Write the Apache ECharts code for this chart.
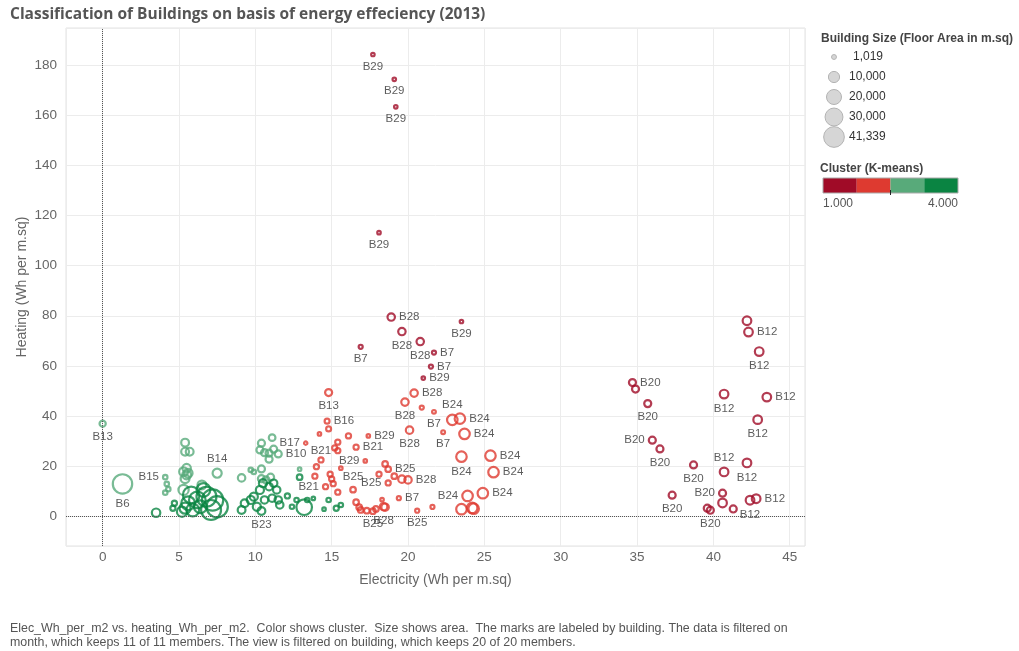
<!DOCTYPE html>
<html>
<head>
<meta charset="utf-8">
<script src="https://cdn.jsdelivr.net/npm/echarts@6/dist/echarts.min.js"></script>
<style>
html,body{margin:0;padding:0;background:#fff;}
#chart{width:1019px;height:651px;}
</style>
</head>
<body>
<div id="chart"></div>
<script>
// [electricity Wh/m2, heating Wh/m2, floor area m2, label]
const cluster1 = [
    [17.7,184.4,1100,'B29'],[19.1,174.5,1100,'B29'],[19.2,163.5,1100,'B29'],[18.1,113.2,1100,'B29'],
    [18.9,79.5,5000,'B28'],[23.5,77.7,1100,'B29'],[19.6,73.7,5000,'B28'],[16.9,67.6,1500,'B7'],
    [20.8,69.7,5000,'B28'],[21.7,65.3,1500,'B7'],[21.5,59.7,1500,'B7'],[21.0,55.1,1100,'B29'],
    [42.2,78.0,6800,''],[42.3,73.5,6800,'B12'],[43.0,65.7,6800,'B12'],[34.7,53.3,4500,'B20'],
    [34.9,50.7,4500,''],[35.7,44.9,4500,'B20'],[40.7,48.7,6800,'B12'],[43.5,47.5,6800,'B12'],
    [42.9,38.5,6800,'B12'],[36.0,30.3,4500,'B20'],[36.5,26.8,4500,'B20'],[38.7,20.4,4500,'B20'],
    [42.2,21.2,6800,'B12'],[40.7,17.6,6800,'B12'],[37.3,8.3,4500,'B20'],[40.6,9.1,4500,'B20'],
    [40.6,5.2,6800,''],[41.3,2.8,4500,''],[42.4,6.3,6800,'B12'],[42.8,6.9,6800,'B12'],
    [39.6,3.1,4500,''],[39.8,2.3,4500,'B20']
];
const cluster2 = [
    [20.4,49.1,5000,'B28'],[19.8,45.5,5000,'B28'],[20.9,43.3,1500,''],[21.7,41.6,1300,'B7'],
    [22.9,38.4,10000,'B24'],[23.4,38.9,10000,'B24'],[23.7,32.8,10000,'B24'],[20.1,34.3,5000,'B28'],
    [22.3,33.5,1300,'B7'],[14.8,49.3,4500,'B13'],[14.7,37.9,2200,'B16'],[14.8,34.8,2200,''],
    [14.2,32.8,1100,''],[13.3,29.1,1019,'B17'],[16.1,32.0,2400,''],[17.4,32.0,1100,'B29'],
    [15.4,29.5,2400,''],[16.6,27.5,2400,'B21'],[15.2,27.2,2400,''],[15.4,26.1,2400,'B21'],
    [14.3,22.4,2400,''],[17.2,22.0,1100,'B29'],[15.6,19.1,1100,''],[14.0,19.7,2400,''],
    [13.9,15.9,2400,''],[14.9,16.7,2400,''],[15.0,14.8,2400,''],[15.1,12.9,2400,''],
    [14.6,11.7,2400,'B21'],[15.4,9.5,2400,''],[16.4,10.5,2800,'B25'],[18.5,20.8,2800,''],
    [18.7,18.7,2800,'B25'],[18.1,16.7,2400,''],[19.1,15.9,2800,''],[19.6,14.7,5000,''],
    [20.0,14.4,5000,'B28'],[18.7,13.2,2400,'B25'],[19.4,7.1,1500,'B7'],[16.6,5.5,2800,''],
    [16.8,3.5,2800,''],[16.9,2.4,2800,''],[17.3,2.1,2800,''],[17.7,1.9,2800,'B25'],
    [17.9,2.8,2800,''],[18.3,6.5,1100,''],[18.4,3.7,5000,'B28'],[18.5,3.5,5000,''],
    [20.6,2.1,1500,'B25'],[21.6,3.6,1500,''],[23.5,23.7,10000,'B24'],[25.4,24.1,10000,'B24'],
    [25.6,17.5,10000,'B24'],[24.9,9.1,10000,'B24'],[23.9,8.0,10000,'B24'],[23.5,2.7,10000,''],
    [24.2,3.2,10000,''],[24.3,2.9,10000,'']
];
const cluster3 = [
    [0.0,36.9,3500,'B13'],[1.3,12.8,34000,'B6'],[4.1,15.5,1800,'B15'],[4.2,12.8,1800,''],
    [4.3,10.7,1800,''],[4.1,9.3,1800,''],[5.4,29.3,5500,''],[5.4,25.7,5500,''],
    [5.7,25.7,5500,''],[5.5,19.1,6500,''],[5.3,17.7,7000,''],[5.5,16.4,7000,''],
    [5.4,14.9,7000,''],[5.6,17.1,7000,''],[5.3,10.4,9500,''],[6.5,12.4,7000,''],
    [7.5,17.1,7500,'B14'],[9.1,15.2,5000,''],[9.7,18.4,1800,''],[9.9,17.6,1800,''],
    [10.4,18.8,4500,''],[10.4,29.1,4500,''],[11.1,31.3,4000,''],[10.3,26.4,4500,''],
    [10.6,25.3,4500,''],[10.9,25.1,4500,''],[11.2,26.7,4500,''],[11.5,24.8,4500,'B10'],
    [10.9,22.7,4500,''],[10.4,14.9,4500,''],[10.7,14.4,4500,''],[11.0,15.5,4500,''],
    [12.9,18.7,1100,'']
];
const cluster4 = [
    [3.5,1.3,6500,''],[6.8,7.7,36000,''],[7.2,6.4,41339,''],[7.5,3.7,41339,''],
    [7.1,2.4,36000,''],[5.8,8.4,25000,''],[6.2,6.4,25000,''],[5.6,5.1,17000,''],
    [5.4,3.1,11000,''],[5.2,1.7,9500,''],[5.9,2.4,15000,''],[6.4,3.7,15000,''],
    [6.6,10.4,17000,''],[4.7,5.1,2400,''],[4.6,3.1,2400,''],[9.1,2.4,5500,''],
    [9.3,5.1,5500,''],[9.7,6.4,6000,''],[9.9,7.7,6000,''],[10.1,3.7,6000,''],
    [10.4,2.0,5500,'B23'],[10.3,10.4,6000,''],[10.5,13.1,6000,''],[10.9,11.7,5000,''],
    [11.2,13.1,5000,''],[11.4,10.4,5000,''],[10.6,6.4,5000,''],[11.1,7.1,5000,''],
    [11.5,6.4,5000,''],[11.6,4.4,5000,''],[12.1,8.0,2400,''],[12.4,3.7,1800,''],
    [12.7,6.4,1800,''],[13.2,3.5,22000,''],[12.9,15.5,2800,''],[13.4,6.4,1800,''],
    [13.8,7.0,1100,''],[14.8,6.4,1800,''],[14.5,2.7,1100,''],[15.3,3.1,2400,''],
    [15.6,4.4,1800,'']
];
const clusterNames = ['1', '2', '3', '4'];
const sizeLegend = [1019, 10000, 20000, 30000, 41339];
const sizeLegendText = ['1,019', '10,000', '20,000', '30,000', '41,339'];
const clusterRange = ['1.000', '4.000'];

// label placement, in order of the labelled marks of each cluster
const c1Sides = ['bottom','bottom','bottom','bottom','right','bottom','bottom','bottom','bottom','right','right','right',
    'right','bottom','right','bottom','bottom','right','bottom','left','bottom','bottom','bottom','top','bottom','left',
    'bottom','right','bottom'];
const c2Sides = ['right','bottom','bottom','top','right','right','bottom','bottom','bottom','right','left','right',
    'right','left','left','left','top','right','right','left','right','bottom','bottom','bottom','bottom','right',
    'right','right','left'];
const c3Sides = ['bottom','bottom','left','top','right'];
const c4Sides = ['bottom'];

const colors = ['#a00b27', '#de3a30', '#58aa7a', '#0a8442'];
const FONT = '"Liberation Sans", Arial, sans-serif';

function markSize(area){
    return 0.105 * Math.sqrt(area);
}

function buildData(rows, sides){
    let k = 0;
    return rows.map(r => {
        if ( r[3] ){
            const side = sides[k++] || 'bottom';
            return { value: r, label: { show: true, position: side } };
        }
        return { value: r, label: { show: false } };
    });
}

const clusters = [cluster1, cluster2, cluster3, cluster4];
const sides = [c1Sides, c2Sides, c3Sides, c4Sides];

const seriesData = clusters.map((rows, i) => ({
    name: clusterNames[i],
    type: 'scatter',
    data: buildData(rows, sides[i]),
    symbolSize: v => markSize(v[2]),
    itemStyle: {
        color: 'rgba(255,255,255,0)',
        borderColor: colors[i],
        borderWidth: 2.2
    },
    label: {
        formatter: p => p.value[3],
        color: '#333',
        fontSize: 11.5,
        fontFamily: FONT,
        distance: 3
    },
    labelLayout: { hideOverlap: false },
    emphasis: { disabled: true },
    z: 3
}));

seriesData.push({
    type: 'scatter',
    data: [],
    markLine: {
        silent: true,
        symbol: ['none', 'none'],
        label: { show: false },
        lineStyle: { type: 'dotted', color: '#555', width: 1 },
        data: [{ xAxis: 0 }, { yAxis: 0 }]
    },
    z: 1
});

// legends (size + colour) drawn at the right
const graphics = [];
graphics.push({
    type: 'text', left: 821, top: 33,
    style: { text: 'Building Size (Floor Area in m.sq)', fill: '#444', font: 'bold 12px ' + FONT }
});
sizeLegend.forEach((v, i) => {
    const cy = 57 + i * 20;
    graphics.push({
        type: 'circle',
        shape: { cx: 834, cy: cy, r: (0.092 * Math.sqrt(v) + 2) / 2 },
        style: { fill: '#d6d6d6', stroke: '#b3b3b3', lineWidth: 1 }
    });
    graphics.push({
        type: 'text', x: i === 0 ? 853 : 849, y: cy,
        style: { text: sizeLegendText[i], fill: '#333', font: '12px ' + FONT, textVerticalAlign: 'middle' }
    });
});
graphics.push({
    type: 'text', left: 820, top: 163,
    style: { text: 'Cluster (K-means)', fill: '#444', font: 'bold 12px ' + FONT }
});
const barX = 823, barW = 135, barY = 178, barH = 15;
colors.forEach((c, i) => {
    graphics.push({
        type: 'rect',
        shape: { x: barX + i * barW / 4, y: barY, width: barW / 4, height: barH },
        style: { fill: c }
    });
});
graphics.push({
    type: 'rect',
    shape: { x: barX, y: barY, width: barW, height: barH },
    style: { fill: 'none', stroke: '#aaa', lineWidth: 1 }
});
graphics.push({
    type: 'line',
    shape: { x1: barX + barW / 2, y1: barY + barH - 3, x2: barX + barW / 2, y2: barY + barH + 2 },
    style: { stroke: '#222', lineWidth: 1 }
});
graphics.push({
    type: 'text', x: barX, y: 198,
    style: { text: clusterRange[0], fill: '#555', font: '12px ' + FONT }
});
graphics.push({
    type: 'text', x: barX + barW, y: 198,
    style: { text: clusterRange[1], fill: '#555', font: '12px ' + FONT, textAlign: 'right' }
});
graphics.push({
    type: 'text', x: 10, y: 622,
    style: {
        text: 'Elec_Wh_per_m2 vs. heating_Wh_per_m2.  Color shows cluster.  Size shows area.  The marks are labeled by building. The data is filtered on\nmonth, which keeps 11 of 11 members. The view is filtered on building, which keeps 20 of 20 members.',
        fill: '#555', font: '12.4px ' + FONT, lineHeight: 14
    }
});

const myChart = echarts.init(document.getElementById('chart'));
const option = {
    animation: false,
    title: {
        text: 'Classification of Buildings on basis of energy effeciency (2013)',
        left: 10,
        top: 7,
        padding: 0,
        textStyle: { fontFamily: '"Open Sans", sans-serif', fontWeight: 'bold', fontSize: 15.5, color: '#555' }
    },
    grid: {
        left: 66, right: 214, top: 28, bottom: 105,
        show: true, borderColor: '#e3e3e3', borderWidth: 1
    },
    xAxis: {
        type: 'value',
        min: -2.4,
        max: 46,
        splitNumber: 10,
        name: 'Electricity (Wh per m.sq)',
        nameLocation: 'middle',
        nameGap: 27,
        nameTextStyle: { color: '#666', fontSize: 14, fontFamily: FONT },
        axisLine: { show: false },
        axisTick: { show: false },
        axisLabel: {
            color: '#666', fontSize: 13.5, fontFamily: FONT, margin: 4,
            showMinLabel: false, showMaxLabel: false,
            formatter: v => (v % 5 === 0 ? String(v) : '')
        },
        splitLine: { show: true, lineStyle: { color: '#ececec' } }
    },
    yAxis: {
        type: 'value',
        min: -12,
        max: 195,
        splitNumber: 10,
        name: 'Heating (Wh per m.sq)',
        nameLocation: 'middle',
        nameGap: 37,
        nameMoveOverlap: false,
        nameTextStyle: { color: '#666', fontSize: 14, fontFamily: FONT },
        axisLine: { show: false },
        axisTick: { show: false },
        axisLabel: {
            color: '#666', fontSize: 13.5, fontFamily: FONT, margin: 9,
            showMinLabel: false, showMaxLabel: false,
            formatter: v => (v % 20 === 0 ? String(v) : '')
        },
        splitLine: { show: true, lineStyle: { color: '#ececec' } }
    },
    graphic: graphics,
    series: seriesData
};
myChart.setOption(option);
</script>
</body>
</html>
